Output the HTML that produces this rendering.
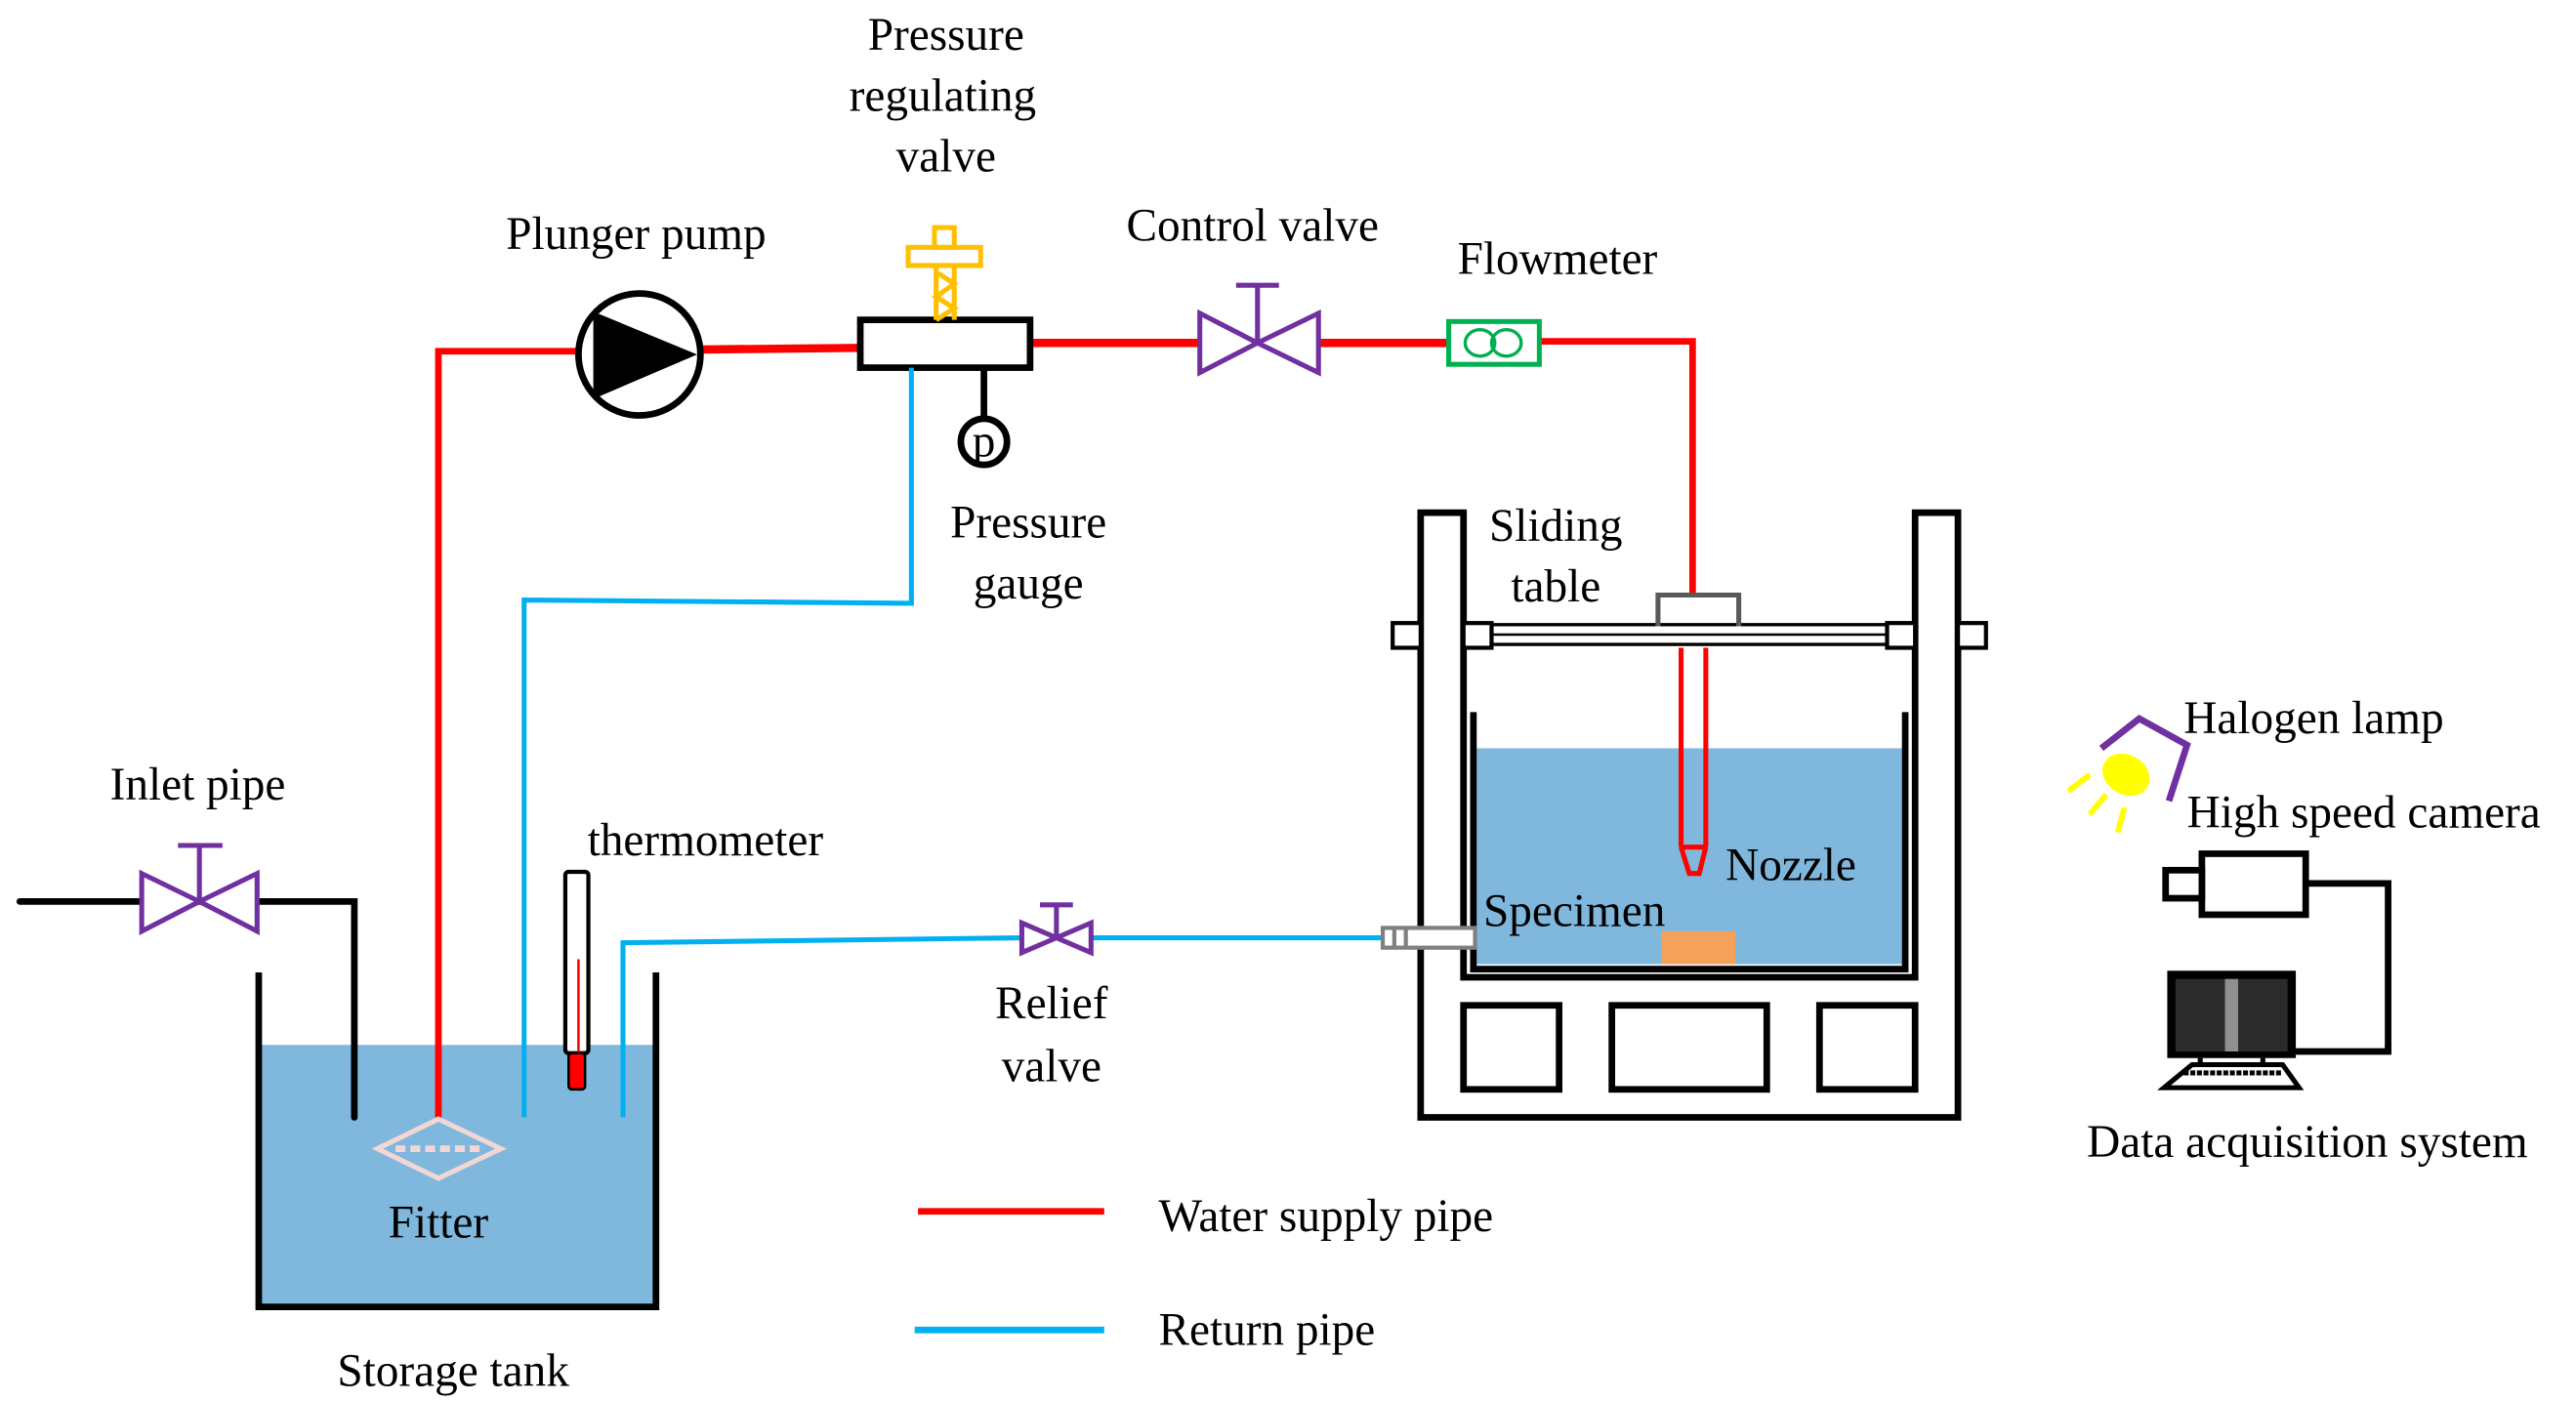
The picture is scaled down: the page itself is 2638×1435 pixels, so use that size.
<!DOCTYPE html>
<html><head><meta charset="utf-8"><style>
html,body{margin:0;padding:0;background:#fff;}
svg{display:block;}
text{font-family:"Liberation Serif",serif;font-size:28px;fill:#000;}
</style></head><body>
<svg width="2638" height="1435" viewBox="0 0 1563 850" xmlns="http://www.w3.org/2000/svg">
<rect x="157" y="634" width="241" height="159" fill="#80b7dd"/>
<polyline points="157,590 157,793 398,793 398,590" fill="none" stroke="#000" stroke-width="4"/>
<polyline points="12,547 215,547 215,678" fill="none" stroke="#000" stroke-width="4" stroke-linecap="round"/>
<g stroke="#7030a0" stroke-width="3" fill="#fff">
<path d="M86,530 L121,547 L86,565 Z M156,530 L121,547 L156,565 Z"/>
<line x1="121" y1="547" x2="121" y2="513"/><line x1="108" y1="513" x2="135" y2="513"/>
</g>
<polyline points="266,678 266,213 350,213" fill="none" stroke="#f00" stroke-width="4"/>
<line x1="425" y1="212" x2="522" y2="211" stroke="#f00" stroke-width="5"/>
<line x1="625" y1="208" x2="727" y2="208" stroke="#f00" stroke-width="5"/>
<line x1="800" y1="208" x2="878" y2="208" stroke="#f00" stroke-width="5"/>
<polyline points="935,207 1027,207 1027,360" fill="none" stroke="#f00" stroke-width="4"/>
<circle cx="388" cy="215" r="37" fill="#fff" stroke="#000" stroke-width="4"/>
<path d="M360,189 L423,215 L360,242 Z" fill="#000"/>
<rect x="522" y="194" width="103" height="29" fill="#fff" stroke="#000" stroke-width="4"/>
<g stroke="#ffc000" stroke-width="3" fill="none">
<rect x="567" y="138" width="12" height="12"/>
<rect x="551" y="150" width="44" height="11"/>
<line x1="568" y1="161" x2="568" y2="194"/><line x1="579" y1="161" x2="579" y2="194"/>
<path d="M568,165 L579,172 L568,180 L579,187 L568,194"/>
</g>
<line x1="597" y1="223" x2="597" y2="255" stroke="#000" stroke-width="4"/>
<circle cx="597" cy="268" r="14" fill="#fff" stroke="#000" stroke-width="4"/>
<text x="597" y="277" text-anchor="middle" font-size="26">p</text>
<g stroke="#7030a0" stroke-width="3" fill="#fff">
<path d="M728,190 L763,208 L728,226 Z M800,190 L763,208 L800,226 Z"/>
<line x1="763" y1="208" x2="763" y2="173"/><line x1="750" y1="173" x2="776" y2="173"/>
</g>
<rect x="879" y="195" width="55" height="26" fill="#fff" stroke="#00b050" stroke-width="3"/>
<ellipse cx="898" cy="208" rx="9" ry="8" fill="none" stroke="#00b050" stroke-width="2"/>
<ellipse cx="914" cy="208" rx="9" ry="8" fill="none" stroke="#00b050" stroke-width="2"/>
<polyline points="553,223 553,366 318,364 318,678" fill="none" stroke="#00b0f0" stroke-width="3"/>
<polyline points="378,678 378,572 620,569" fill="none" stroke="#00b0f0" stroke-width="3"/>
<line x1="662" y1="569" x2="840" y2="569" stroke="#00b0f0" stroke-width="3"/>
<g stroke="#7030a0" stroke-width="3" fill="#fff">
<path d="M620,560 L641,569 L620,578 Z M662,560 L641,569 L662,578 Z"/>
<line x1="641" y1="569" x2="641" y2="549"/><line x1="631" y1="549" x2="651" y2="549"/>
</g>
<rect x="343" y="529" width="14" height="110" rx="2" fill="#fff" stroke="#000" stroke-width="2.5"/>
<line x1="351" y1="582" x2="351" y2="640" stroke="#f00" stroke-width="1.5"/>
<rect x="345" y="639" width="10" height="22" rx="2" fill="#f00" stroke="#000" stroke-width="1.5"/>
<path d="M229,697 L266,679 L304,697 L266,715 Z" fill="none" stroke="#f2d7d5" stroke-width="3"/>
<line x1="240" y1="697" x2="294" y2="697" stroke="#f2d7d5" stroke-width="4" stroke-dasharray="6,3"/>
<path d="M862,311 L888,311 L888,593 L1162,593 L1162,311 L1188,311 L1188,678 L862,678 Z" fill="#fff" stroke="#000" stroke-width="4"/>
<rect x="888" y="610" width="58" height="51" fill="none" stroke="#000" stroke-width="4"/>
<rect x="978" y="610" width="94" height="51" fill="none" stroke="#000" stroke-width="4"/>
<rect x="1104" y="610" width="58" height="51" fill="none" stroke="#000" stroke-width="4"/>
<rect x="896" y="454" width="258" height="131" fill="#80b7dd"/>
<polyline points="894,432 894,588 1156,588 1156,432" fill="none" stroke="#000" stroke-width="4"/>
<g stroke="#000" stroke-width="2.5" fill="#fff">
<rect x="845" y="378" width="17" height="15"/><rect x="1188" y="378" width="17" height="15"/>
<rect x="888" y="378" width="17" height="15"/><rect x="1145" y="378" width="17" height="15"/>
</g>
<line x1="905" y1="379" x2="1145" y2="379" stroke="#000" stroke-width="2"/>
<line x1="905" y1="385" x2="1145" y2="385" stroke="#000" stroke-width="1.5"/>
<line x1="905" y1="391" x2="1145" y2="391" stroke="#000" stroke-width="2"/>
<polyline points="1006,380 1006,361 1055,361 1055,380" fill="none" stroke="#595959" stroke-width="3"/>
<g stroke="#f00" stroke-width="3" fill="none">
<line x1="1020" y1="393" x2="1020" y2="514"/><line x1="1035" y1="393" x2="1035" y2="514"/>
<path d="M1020,514 L1035,514 M1020,514 L1025,530 L1031,530 L1035,514"/>
</g>
<rect x="1008" y="565" width="45" height="20" fill="#f4a15b"/>
<g stroke="#808080" stroke-width="2.5" fill="#fff">
<rect x="839" y="563" width="56" height="12"/>
<line x1="846" y1="563" x2="846" y2="575"/><line x1="853" y1="563" x2="853" y2="575"/>
</g>
<path d="M1275,454 L1298,436 L1327,452 L1316,486" fill="none" stroke="#7030a0" stroke-width="4"/>
<ellipse cx="1290" cy="470" rx="15" ry="12" transform="rotate(30 1290 470)" fill="#ff0"/>
<g stroke="#ff0" stroke-width="3.5">
<line x1="1255" y1="480" x2="1268" y2="470"/><line x1="1268" y1="494" x2="1278" y2="482"/><line x1="1285" y1="505" x2="1289" y2="490"/>
</g>
<rect x="1336" y="518" width="63" height="37" fill="#fff" stroke="#000" stroke-width="4"/>
<rect x="1314" y="528" width="22" height="17" fill="#fff" stroke="#000" stroke-width="4"/>
<polyline points="1399,536 1449,536 1449,638 1392,638" fill="none" stroke="#000" stroke-width="4"/>
<rect x="1315" y="589" width="78" height="53" fill="#000"/>
<rect x="1320" y="594" width="68" height="44" fill="#2b2b2b"/>
<rect x="1350" y="594" width="8" height="44" fill="#bbb" opacity="0.7"/>
<path d="M1330,646 L1385,646 L1395,660 L1313,660 Z" fill="#fff" stroke="#000" stroke-width="3"/>
<line x1="1325" y1="651" x2="1385" y2="651" stroke="#000" stroke-width="3" stroke-dasharray="3,1"/>
<line x1="1335" y1="642" x2="1335" y2="646" stroke="#000" stroke-width="3"/>
<line x1="1373" y1="642" x2="1373" y2="646" stroke="#000" stroke-width="3"/>
<line x1="557" y1="735" x2="670" y2="735" stroke="#f00" stroke-width="4"/>
<line x1="555" y1="807" x2="670" y2="807" stroke="#00b0f0" stroke-width="4"/>
<text x="574" y="30" text-anchor="middle">Pressure</text>
<text x="572" y="67" text-anchor="middle">regulating</text>
<text x="574" y="104" text-anchor="middle">valve</text>
<text x="386" y="151" text-anchor="middle">Plunger pump</text>
<text x="760" y="146" text-anchor="middle">Control valve</text>
<text x="945" y="166" text-anchor="middle">Flowmeter</text>
<text x="624" y="326" text-anchor="middle">Pressure</text>
<text x="624" y="363" text-anchor="middle">gauge</text>
<text x="944" y="328" text-anchor="middle">Sliding</text>
<text x="944" y="365" text-anchor="middle">table</text>
<text x="1325" y="445">Halogen lamp</text>
<text x="1327" y="502">High speed camera</text>
<text x="1047" y="534">Nozzle</text>
<text x="900" y="562">Specimen</text>
<text x="120" y="485" text-anchor="middle">Inlet pipe</text>
<text x="428" y="519" text-anchor="middle">thermometer</text>
<text x="638" y="618" text-anchor="middle">Relief</text>
<text x="638" y="656" text-anchor="middle">valve</text>
<text x="1400" y="702" text-anchor="middle">Data acquisition system</text>
<text x="266" y="751" text-anchor="middle">Fitter</text>
<text x="275" y="841" text-anchor="middle">Storage tank</text>
<text x="703" y="747">Water supply pipe</text>
<text x="703" y="816">Return pipe</text>
</svg>
</body></html>
